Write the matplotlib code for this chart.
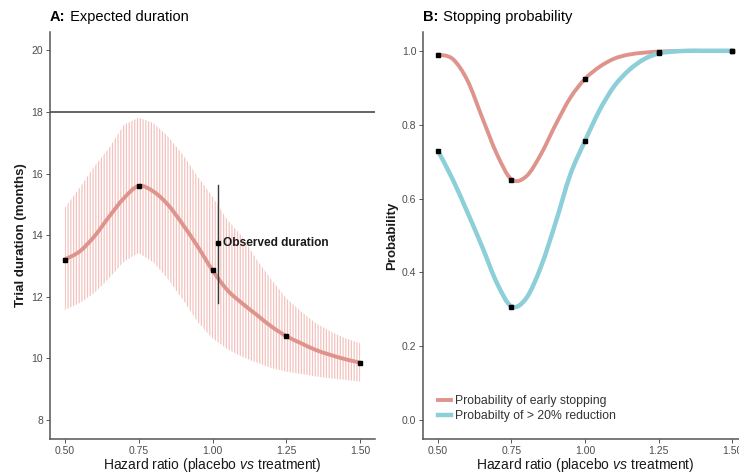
import numpy as np
import matplotlib
matplotlib.use("Agg")
import matplotlib.pyplot as plt
from matplotlib.path import Path
from matplotlib.patches import PathPatch
from matplotlib.lines import Line2D

plt.rcParams['font.family'] = ['Liberation Sans', 'DejaVu Sans']
plt.rcParams['mathtext.fontset'] = 'custom'
plt.rcParams['mathtext.rm'] = 'Liberation Sans'
plt.rcParams['mathtext.it'] = 'Liberation Sans:italic'
plt.rcParams['mathtext.bf'] = 'Liberation Sans:bold'
plt.rcParams['hatch.linewidth'] = 0.9

# hazard ratio grid
hr_grid = [0.50, 0.55, 0.60, 0.65, 0.70, 0.75, 0.80, 0.85, 0.90, 0.95, 1.00,
           1.05, 1.10, 1.15, 1.20, 1.25, 1.30, 1.35, 1.40, 1.45, 1.50]

# panel A: expected duration and its range
dur_mean = [13.21, 13.47, 13.96, 14.60, 15.20, 15.60, 15.42, 14.98, 14.34, 13.63, 12.86,
            12.22, 11.79, 11.41, 11.03, 10.72, 10.49, 10.27, 10.11, 9.97, 9.86]
dur_upper = [14.89, 15.53, 16.23, 16.83, 17.58, 17.82, 17.64, 17.20, 16.61, 15.90, 15.25,
             14.50, 13.96, 13.20, 12.55, 11.95, 11.52, 11.14, 10.87, 10.65, 10.49]
dur_lower = [11.57, 11.79, 12.12, 12.60, 13.14, 13.42, 13.12, 12.57, 11.90, 11.18, 10.65,
             10.30, 10.05, 9.86, 9.68, 9.57, 9.49, 9.41, 9.35, 9.30, 9.24]

pts_hr = [0.50, 0.75, 1.00, 1.25, 1.50]
dur_pts = [13.21, 15.60, 12.86, 10.72, 9.86]

obs_hr = 1.02
obs_dur = 13.75
obs_low = 11.80
obs_high = 15.64
max_duration = 18

# panel B: stopping probabilities
p_early = [0.990, 0.978, 0.920, 0.820, 0.721, 0.652, 0.660, 0.720, 0.800, 0.873, 0.924,
           0.957, 0.979, 0.990, 0.995, 0.998, 0.999, 1.000, 1.000, 1.000, 1.000]
p_reduc = [0.729, 0.652, 0.563, 0.470, 0.372, 0.308, 0.330, 0.415, 0.535, 0.665, 0.756,
           0.840, 0.905, 0.948, 0.977, 0.993, 0.998, 1.000, 1.000, 1.000, 1.000]
early_pts = [0.990, 0.650, 0.924, 0.998, 1.000]
reduc_pts = [0.729, 0.307, 0.756, 0.994, 1.000]

x_ticks = [0.50, 0.75, 1.00, 1.25, 1.50]
x_ticklabels = ['0.50', '0.75', '1.00', '1.25', '1.50']

red = '#DE948C'
band = '#F2C2BE'
blue = '#8DCFD9'
axcol = '#3A3A3A'
xlab = r'Hazard ratio (placebo $\it{vs}$ treatment)'


def smooth_line(ax, x, y, **kw):
    # draw the read points joined by a Catmull-Rom style bezier path
    p = np.column_stack([x, y]).astype(float)
    ext = np.vstack([p[0], p, p[-1]])
    verts = [p[0]]
    codes = [Path.MOVETO]
    for i in range(len(p) - 1):
        c1 = ext[i+1] + (ext[i+2] - ext[i]) / 6.
        c2 = ext[i+2] - (ext[i+3] - ext[i+1]) / 6.
        verts += [c1, c2, ext[i+2]]
        codes += [Path.CURVE4] * 3
    ax.add_patch(PathPatch(Path(verts, codes), fill=False, capstyle='round',
                           joinstyle='round', **kw))


def style(ax):
    for s in ['top', 'right']:
        ax.spines[s].set_visible(False)
    for s in ['left', 'bottom']:
        ax.spines[s].set_color('#555555')
        ax.spines[s].set_linewidth(1.1)
    ax.tick_params(length=3, width=0.7, color='#555555', labelcolor='#4D4D4D',
                   labelsize=7.5, pad=2)
    ax.set_xticks(x_ticks)
    ax.set_xticklabels(x_ticklabels)
    ax.set_xlim(0.45, 1.55)
    ax.set_xlabel(xlab, fontsize=10, color='#1A1A1A', labelpad=0)


def title(fig, x, y, tag, rest):
    t = fig.text(x, y, tag, fontsize=10.5, fontweight='bold', va='center', ha='left')
    fig.get_axes()[0].annotate(rest, xy=(1, 0.5), xycoords=t, va='center', ha='left',
                               fontsize=10.5, annotation_clip=False)


fig = plt.figure(figsize=(7.39, 4.73), dpi=100)
W, H = 739., 473.
axA = fig.add_axes([50/W, 1-439/H, 325/W, 407/H])
axB = fig.add_axes([423.3/W, 1-439/H, 323.4/W, 407/H])

# panel A
axA.fill_between(hr_grid, dur_lower, dur_upper, facecolor='none', edgecolor=band,
                 hatch='||||||', linewidth=0, zorder=1)
axA.axhline(max_duration, color=axcol, lw=1.1, zorder=2)
smooth_line(axA, hr_grid, dur_mean, edgecolor=red, lw=2.8, zorder=3)
axA.plot(pts_hr, dur_pts, 's', color='black', ms=2.6, zorder=4)
axA.plot([obs_hr, obs_hr], [obs_low, obs_high], color=axcol, lw=1.0, zorder=4)
axA.plot([obs_hr], [obs_dur], 's', color='black', ms=3, zorder=5)
axA.text(obs_hr + 0.017, obs_dur, 'Observed duration', fontsize=8.6, fontweight='bold',
         va='center', ha='left', color='#1A1A1A', zorder=5)
style(axA)
axA.set_ylim(7.38, 20.6)
axA.set_yticks([8, 10, 12, 14, 16, 18, 20])
axA.set_ylabel('Trial duration (months)', fontsize=9.5, fontweight='bold',
               color='#1A1A1A', labelpad=3)

# panel B
smooth_line(axB, hr_grid, p_early, edgecolor=red, lw=2.8, zorder=2)
smooth_line(axB, hr_grid, p_reduc, edgecolor=blue, lw=3.2, zorder=3)
axB.plot(pts_hr, early_pts, 's', color='black', ms=2.6, zorder=4)
axB.plot(pts_hr, reduc_pts, 's', color='black', ms=2.6, zorder=4)
style(axB)
axB.set_ylim(-0.051, 1.051)
axB.set_yticks([0.0, 0.2, 0.4, 0.6, 0.8, 1.0])
axB.set_yticklabels(['0.0', '0.2', '0.4', '0.6', '0.8', '1.0'])
axB.set_ylabel('Probability', fontsize=9.5, fontweight='bold', color='#1A1A1A', labelpad=3)
handles = [Line2D([], [], color=red, lw=2.8), Line2D([], [], color=blue, lw=3.2)]
labels = ['Probability of early stopping', 'Probabilty of > 20% reduction']
axB.legend(handles, labels, loc='lower left', bbox_to_anchor=(0.02, 0.02), frameon=False,
           fontsize=8.8, handlelength=1.0, handletextpad=0.35, labelspacing=0.25,
           borderaxespad=0.3, labelcolor='#333333')

title(fig, 50/W, 1-17/H, 'A:', ' Expected duration')
title(fig, 423.3/W, 1-17/H, 'B:', ' Stopping probability')

fig.savefig('out.png', dpi=100)
